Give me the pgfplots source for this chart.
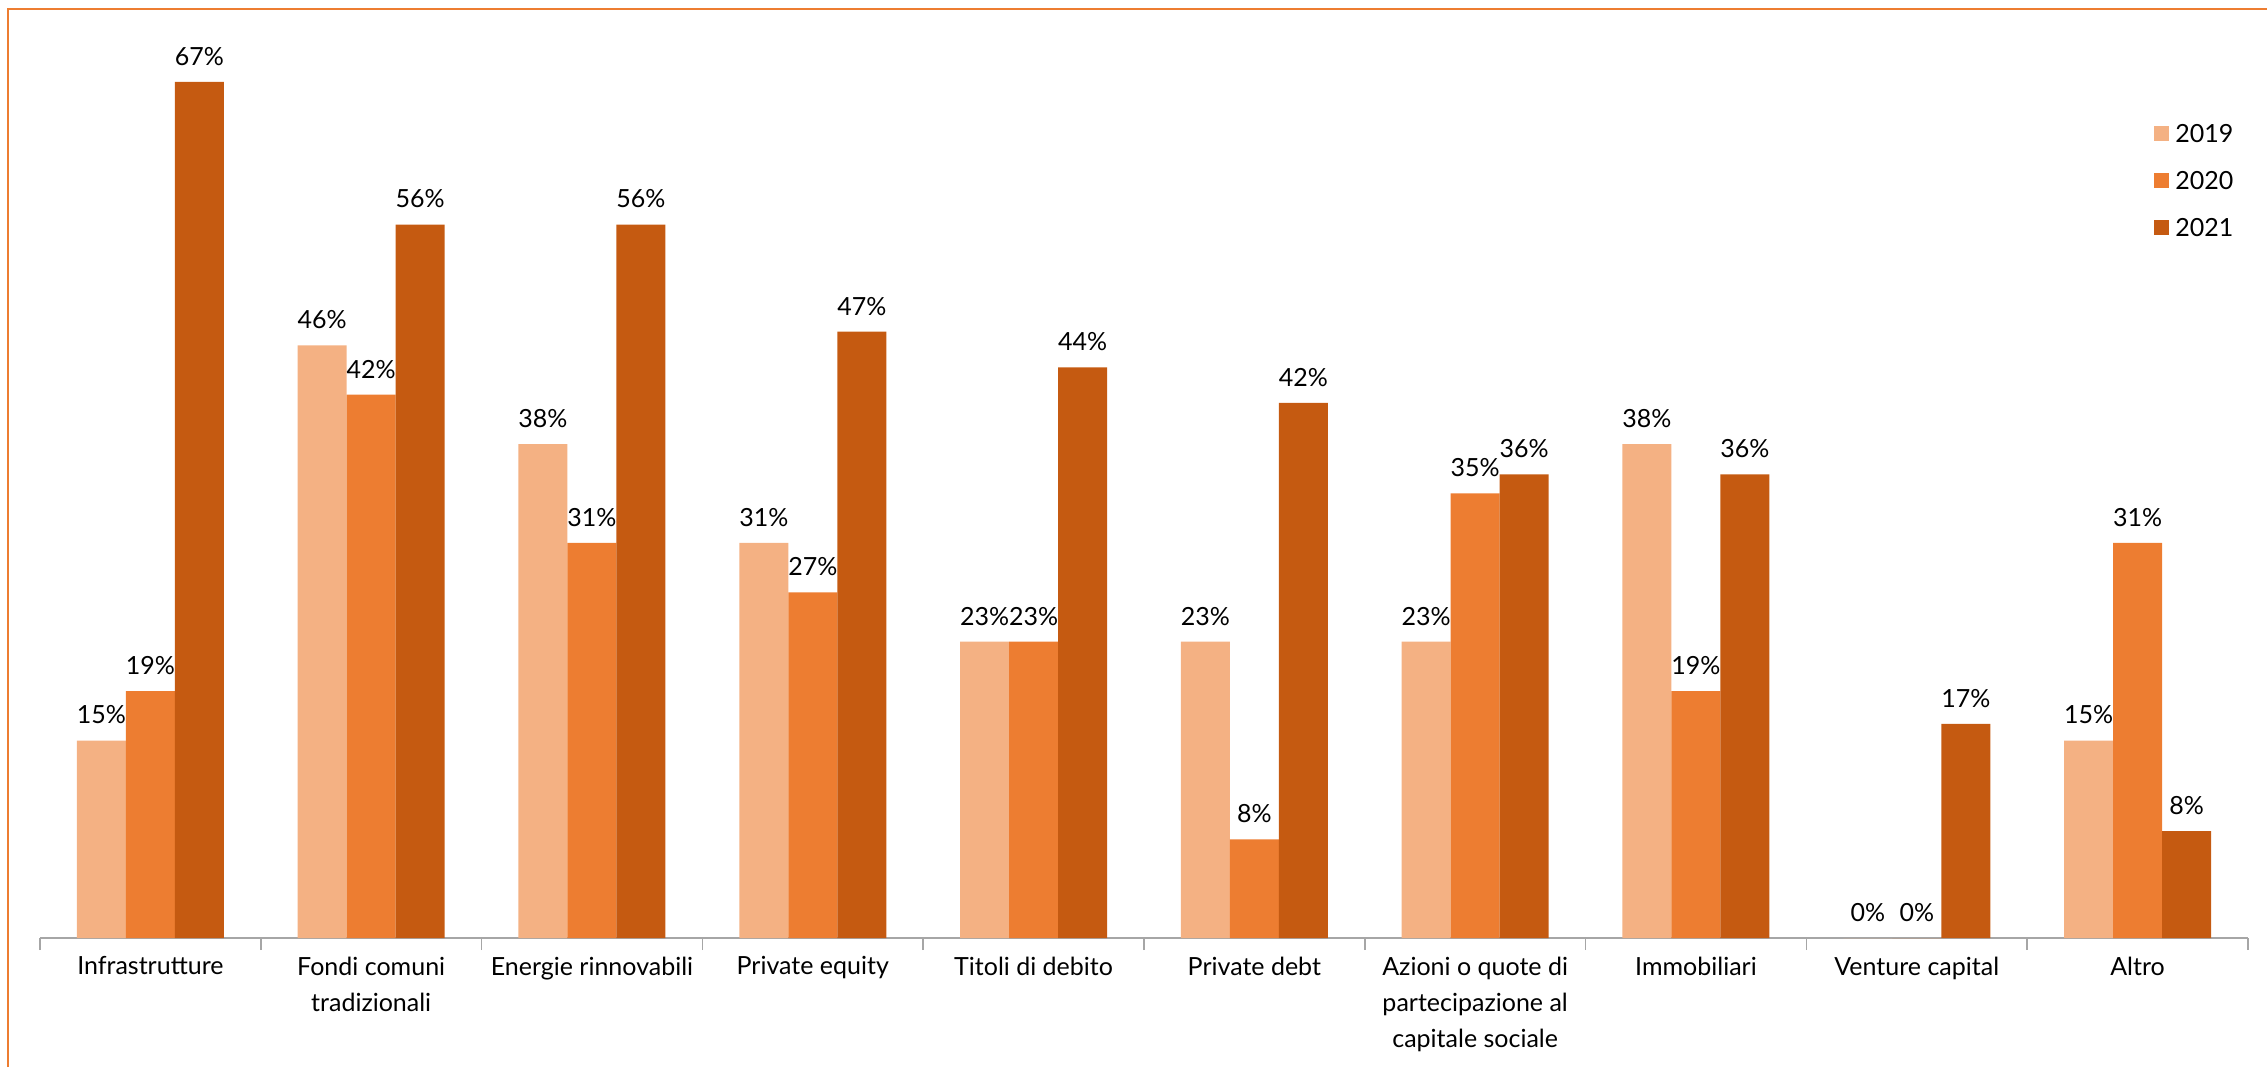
\documentclass[border=0pt]{standalone}
\usepackage{pgfplots}
\pgfplotsset{compat=1.18}
\usepackage{fontspec}
\setmainfont{Lato}
\definecolor{cA}{HTML}{F4B183}
\definecolor{cB}{HTML}{ED7D31}
\definecolor{cC}{HTML}{C55A11}
\definecolor{axgray}{HTML}{A6A6A6}
\begin{document}
\fontsize{12.5}{16}\selectfont
\begin{tikzpicture}
\pgfplotsset{sqlegend/.style={legend image code/.code={\fill[##1] (0pt,-3.75pt) rectangle (7.5pt,3.75pt);}}}
\begin{axis}[
  at={(20pt,64.5pt)}, anchor=south west,
  scale only axis, width=1104pt, height=449.4pt,
  ybar=0pt, bar width=24.5pt,
  xmin=-0.5, xmax=9.5, ymin=0, ymax=70,
  axis y line=none, axis x line*=bottom,
  x axis line style={-, draw=axgray, line width=0.8pt},
  ytick=\empty,
  xtick={0,...,9},
  xticklabels={{Infrastrutture},{Fondi comuni\\[3pt]tradizionali},{Energie rinnovabili},{Private equity},{Titoli di debito},{Private debt},{Azioni o quote di\\[3pt]partecipazione al\\[3pt]capitale sociale},{Immobiliari},{Venture capital},{Altro}},
  major x tick style={draw=none},
  minor xtick={-0.5,0.5,...,9.5},
  minor x tick style={draw=axgray, line width=0.8pt},
  minor tick length=6pt,
  major tick length=0pt,
  tick align=outside,
  xticklabel style={align=center, font=\fontsize{12.5}{15}\selectfont, yshift=-5pt},
  /pgf/number format/assume math mode=true,
  nodes near coords={\pgfmathprintnumber[fixed,precision=0]{\pgfplotspointmeta}\%},
  every node near coord/.append style={font=\fontsize{12.5}{15}\selectfont, inner sep=0pt, anchor=south, yshift=8pt, text=black},
  legend style={at={(0.9574,0.908)}, anchor=north west, draw=none, fill=none, inner sep=0pt, row sep=12.5pt, column sep=2pt, nodes={inner sep=1pt, text height=9pt, text depth=0pt}, font=\fontsize{12.5}{15}\selectfont},
  legend cell align=left,
]
\addplot[fill=cA, draw=none, sqlegend] coordinates {(0,15.38) (1,46.15) (2,38.46) (3,30.77) (4,23.08) (5,23.08) (6,23.08) (7,38.46) (8,0) (9,15.38)};
\addplot[fill=cB, draw=none, sqlegend] coordinates {(0,19.23) (1,42.31) (2,30.77) (3,26.92) (4,23.08) (5,7.69) (6,34.62) (7,19.23) (8,0) (9,30.77)};
\addplot[fill=cC, draw=none, sqlegend] coordinates {(0,66.67) (1,55.56) (2,55.56) (3,47.22) (4,44.44) (5,41.67) (6,36.11) (7,36.11) (8,16.67) (9,8.33)};
\legend{2019,2020,2021}
\end{axis}
\draw[cB, line width=1pt] (4pt,0pt) -- (4pt,529pt) -- (1133.5pt,529pt);
\pgfresetboundingbox
\useasboundingbox (0,0) rectangle (1133.5pt,533.5pt);
\end{tikzpicture}
\end{document}
